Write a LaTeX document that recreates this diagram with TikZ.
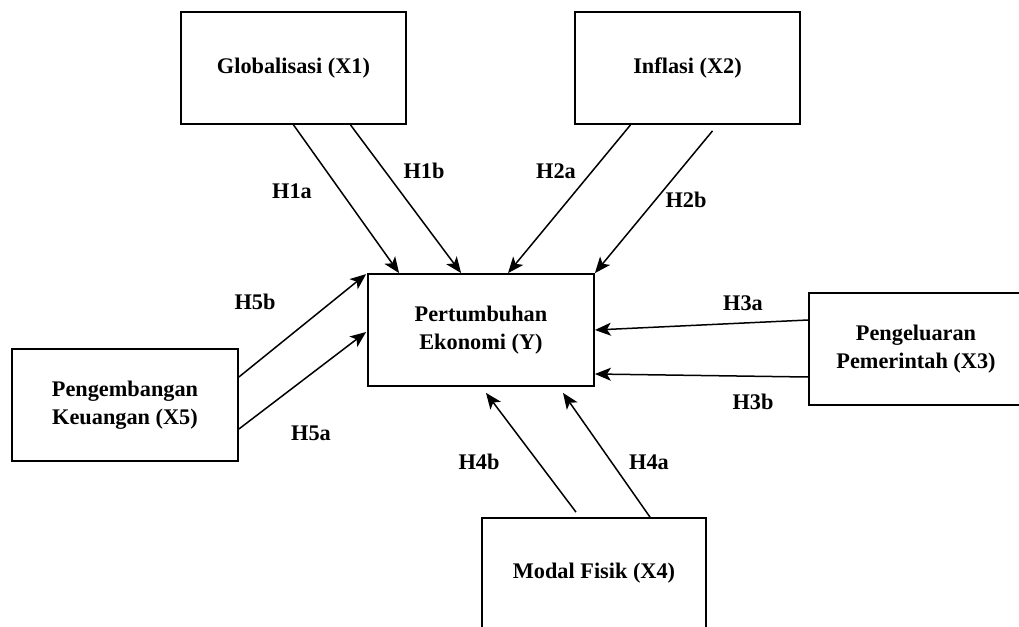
\documentclass[tikz,border=0pt]{standalone}
\usepackage{fontspec}
\setmainfont{Liberation Serif}
\usepackage{tikz}
\usetikzlibrary{arrows.meta,calc}
\tikzset{%
    varbox/.style={%
        draw, line width=1.8pt, inner sep=0pt, align=center,
        font=\fontsize{22.3}{28}\selectfont\bfseries
    },
    hyp/.style={font=\fontsize{22.3}{28}\selectfont\bfseries, inner sep=0pt},
    arr/.style={line width=1.5pt, -{Stealth[length=16pt,width=13pt,inset=4pt]}}
}

\begin{document}
\begin{tikzpicture}[x=1pt,y=-1pt]
    \useasboundingbox (0,0) rectangle (1019,626);
    \node[varbox, minimum width=225, minimum height=112] (glob) at (293.5,68) {Globalisasi (X1)};
    \node[varbox, minimum width=225, minimum height=112] (infl) at (687.5,68) {Inflasi (X2)};
    \node[varbox, minimum width=226, minimum height=112] (pert) at (481,330) {Pertumbuhan\\Ekonomi (Y)};
    \node[varbox, minimum width=214, minimum height=112] (govt) at (916,349) {Pengeluaran\\Pemerintah (X3)};
    \node[varbox, minimum width=224, minimum height=110] (modal) at (594,573) {Modal Fisik (X4)};
    \node[varbox, minimum width=226, minimum height=112] (fin) at (125,405) {Pengembangan\\Keuangan (X5)};

    \draw[arr] (glob.south) -- ($(pert.north west)+(32,0)$);
    \draw[arr] ($(glob.south)+(57,0)$) -- ($(pert.north west)+(94,0)$);
    \draw[arr] ($(infl.south)+(-57,0)$) -- ($(pert.north)+(27,0)$);
    \draw[arr] ($(infl.south)+(25,6)$) -- (pert.north east);
    \draw[arr] ($(govt.west)+(0,-29)$) -- (pert.east);
    \draw[arr] ($(govt.west)+(0,28)$) -- ($(pert.east)+(0,44)$);
    \draw[arr] ($(modal.north)+(-18,-5)$) -- ($(pert.south)+(5,6)$);
    \draw[arr] ($(modal.north)+(56,0)$) -- ($(pert.south)+(82,6)$);
    \draw[arr] ($(fin.east)+(0,-28)$) -- ($(pert.north west)+(-1,1)$);
    \draw[arr] ($(fin.east)+(0,24)$) -- ($(pert.west)+(-1,2)$);

    \node[hyp] (h1a) at (292,191) {H1a};
    \node[hyp] (h1b) at (424,171) {H1b};
    \node[hyp] (h2a) at (556,171) {H2a};
    \node[hyp] (h2b) at (686,200) {H2b};
    \node[hyp] (h3a) at (743,303) {H3a};
    \node[hyp] (h3b) at (753,402) {H3b};
    \node[hyp] (h4b) at (479,462) {H4b};
    \node[hyp] (h4a) at (649,462) {H4a};
    \node[hyp] (h5b) at (255,302) {H5b};
    \node[hyp] (h5a) at (311,433) {H5a};
\end{tikzpicture}
\end{document}
